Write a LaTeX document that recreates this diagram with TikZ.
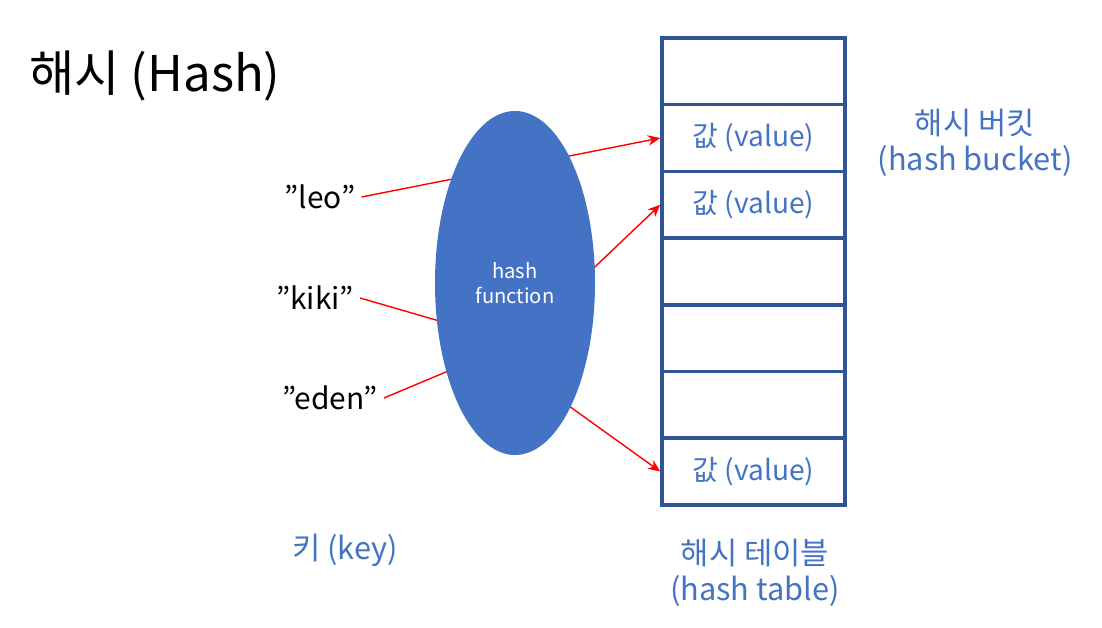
\documentclass[tikz,border=0pt]{standalone}
\usepackage{fontspec}
\setmainfont{Noto Sans CJK KR}
\usetikzlibrary{positioning,arrows.meta}
\definecolor{tblue}{HTML}{4472C4}
\definecolor{lblue}{HTML}{2F5597}
\newcommand{\qk}[1]{\symbol{34}#1\symbol{34}}
\tikzset{
    cell/.style={draw=lblue, line width=2pt, minimum width=3.66cm, minimum height=1.334cm, inner sep=0pt},
    val/.style={text=tblue, font=\fontsize{16}{18}\selectfont},
    key/.style={font=\fontsize{17}{19}\selectfont},
    lbl/.style={text=tblue, font=\fontsize{17.5}{20.5}\selectfont, align=center},
    link/.style={red, thick, -{Stealth[length=7pt,width=6pt]}},
}
\begin{document}
\begin{tikzpicture}
    \useasboundingbox (0,0) rectangle (22.04,12.56);
    % Title
    \node[font=\fontsize{28}{32}\selectfont] (title) at (3.1,11.05) {해시 (Hash)};

    % Hash table cells
    \foreach \i in {1,...,7} {
        \node[cell] (c\i) at (15.07,12.56-0.76-\i*1.334+1.334/2) {};
    }
    \node[val] at (c2) {값 (value)};
    \node[val] at (c3) {값 (value)};
    \node[val] at (c7) {값 (value)};

    % Keys
    \node[key] (leo) at (6.4,8.62) {\qk{leo}};
    \node[key] (kiki) at (6.3,6.6) {\qk{kiki}};
    \node[key] (eden) at (6.6,4.6) {\qk{eden}};
    \coordinate (mid) at (10.3,5.7);
    \coordinate (low) at (10.6,5.0);

    % Arrows (behind the ellipse)
    \draw[link] (leo.east) -- (c2.west);
    \draw[red, thick] (kiki.east) -- (mid);
    \draw[red, thick] (eden.east) -- (mid);
    \draw[link] (mid) -- (c3.west);
    \draw[link] (low) -- (c7.west);

    % Hash function
    \fill[tblue] (10.3,6.9) ellipse (1.6cm and 3.44cm);
    \node[text=white, font=\fontsize{11.5}{14.5}\selectfont, align=center] (hf) at (10.3,6.9) {hash\\function};

    % Captions
    \node[lbl] (keylbl) at (6.9,1.56) {키 (key)};
    \node[lbl] (tbllbl) at (15.1,1.1) {해시 테이블\\(hash table)};
    \node[lbl] (bktlbl) at (19.5,9.7) {해시 버킷\\(hash bucket)};
\end{tikzpicture}
\end{document}
